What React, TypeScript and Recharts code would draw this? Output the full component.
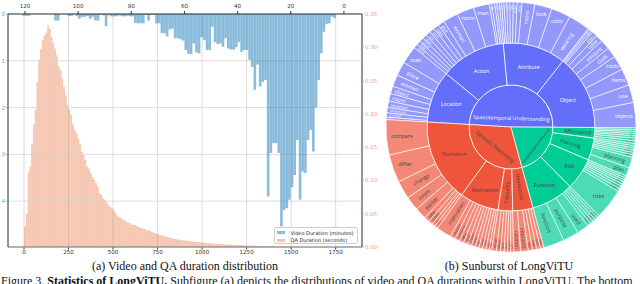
import React from "react";
import { Bar, BarChart, CartesianGrid, Cell, Pie, PieChart, XAxis, YAxis } from "recharts";

const secondTicks = [0, 250, 500, 750, 1000, 1250, 1500, 1750];
const minuteTicks = [0, 20, 40, 60, 80, 100, 120];
const videoTicks = [0, 1, 2, 3, 4];
const qaTicks = [0, 0.05, 0.1, 0.15, 0.2, 0.25, 0.3, 0.35];

// QA duration density, 10 s bins from 0 s
const qaDensity = [
  0.03, 0.05, 0.112, 0.121, 0.154, 0.184, 0.206, 0.248, 0.281, 0.297,
  0.311, 0.317, 0.322, 0.333, 0.328, 0.316, 0.306, 0.298, 0.288, 0.272,
  0.266, 0.253, 0.241, 0.228, 0.213, 0.206, 0.198, 0.184, 0.176, 0.171,
  0.163, 0.155, 0.143, 0.138, 0.131, 0.121, 0.118, 0.111, 0.105, 0.101,
  0.096, 0.09, 0.081, 0.078, 0.073, 0.071, 0.067, 0.063, 0.06, 0.058,
  0.055, 0.051, 0.047, 0.045, 0.044, 0.041, 0.04, 0.038, 0.036, 0.036,
  0.034, 0.033, 0.033, 0.031, 0.03, 0.029, 0.028, 0.027, 0.026, 0.025,
  0.025, 0.023, 0.022, 0.021, 0.02, 0.019, 0.018, 0.017, 0.016, 0.016,
  0.015, 0.014, 0.014, 0.013, 0.012, 0.012, 0.011, 0.011, 0.01, 0.01,
  0.0098, 0.0094, 0.009, 0.0087, 0.0083, 0.008, 0.0077, 0.0074, 0.0071, 0.0069,
  0.0066, 0.0063, 0.006, 0.0058, 0.0056, 0.0053, 0.0051, 0.0049, 0.0047, 0.0045,
  0.0044, 0.0042, 0.004, 0.0039, 0.0037, 0.0036, 0.0034, 0.0033, 0.0031, 0.003,
  0.0029, 0.0027, 0.0026, 0.0025, 0.0024, 0.0023, 0.0022, 0.0021, 0.002, 0.0019,
  0.0018, 0.0017, 0.0016, 0.0015, 0.0014, 0.0013, 0.0012, 0.0012, 0.0011, 0.001,
  0.001, 0.0009, 0.0008, 0.0008, 0.0007, 0.0006, 0.0006, 0.0005, 0.0005, 0.0004,
];

// video duration density, 1 min bins from 0 min
const videoDensity = [
  0, 0, 0, 0.09, 0.06, 0.2, 0.21, 0.38, 0.84, 1.41,
  2.0, 2.94, 2.48, 2.69, 3.4, 3.37, 3.97, 2.69, 3.44, 3.7,
  3.97, 4.15, 4.19, 4.54, 2.97, 2.76, 2.76, 2.97, 3.9, 1.41,
  1.45, 1.55, 1.08, 1.62, 1.13, 0.98, 0.77, 0.77, 0.81, 0.6,
  0.71, 0.76, 0.76, 0.74, 0.52, 0.7, 0.63, 0.64, 0.6, 0.27,
  0.77, 0.77, 0.56, 0.5, 0.84, 0.82, 0.63, 0.86, 0.85, 0.77,
  0.57, 0.54, 0.52, 0.52, 0.31, 0.33, 0.48, 0.41, 0.41, 0.2,
  0.2, 0.02, 0.02, 0.14, 0.02, 0.2, 0.2, 0.2, 0.19, 0.05,
  0.05, 0.04, 0.05, 0.05, 0.03, 0.05, 0.05, 0.05, 0.03, 0.26,
  0.03, 0.02, 0.14, 0.14, 0.06, 0.1, 0.04, 0.06, 0.06, 0.1,
  0.04, 0, 0.04, 0.04, 0, 0, 0, 0.14, 0.14, 0,
  0, 0, 0, 0, 0, 0, 0, 0, 0.04, 0.04,
  0.04,
];

const qaRows = qaDensity.map((v, i) => ({ sec: i * 10 + 5, v }));
const videoRows = videoDensity.map((v, i) => ({ min: i + 0.5, v }));

const BLUE = "#2b85bd";
const ORANGE = "#e8804f";

// sunburst hierarchy
const topNames = ["Spatiotemporal Understanding", "Episodic Reasoning", "Commonsense Inference"];
const topColors = ["#636efa", "#ef553b", "#00cc96"];
const leafColors = ["#9299fb", "#f48876", "#4cdbb5"];
const textColors = ["#ffffff", "#444444", "#444444"];

const midNames = [
  "Object", "Attribute", "Action", "Location",
  "Transition", "Motivation", "Causality", "Interaction",
  "Function", "Risk", "Planning", "Affordance",
];
const midGroup = [0, 0, 0, 0, 1, 1, 1, 1, 2, 2, 2, 2];

const leafNames = [
  ["objects", "use", "items", "tools", "cloth", "amount", "table", "shirt", "bag", "cup", "box"],
  ["wearing", "color", "look", "room", "size", "shape", "light", "state", "text", "style", "pattern"],
  ["hold", "walk", "sit", "open", "man", "room", "woman", "put", "take", "pick", "cut", "pour", "move", "wash", "stand"],
  ["man", "place", "woman", "object", "room", "location", "direction", "position", "area"],
  ["compare", "differ", "change", "zoom", "earlier", "after", "before", "next", "then"],
  ["motivation", "reason", "purpose", "why", "goal", "intent", "need", "aim", "cause", "want", "plan", "hope"],
  ["result", "effect", "lead", "cause", "impact", "due"],
  ["relation", "interacts", "talk", "help", "share", "meet"],
  ["function", "purpose", "used", "role", "serve", "tool", "work", "aid"],
  ["risks", "danger", "hazard", "safety", "harm", "injury", "fall", "fire"],
  ["plan", "planning", "steps", "next", "prepare", "goal", "order", "task"],
  ["grasp", "hold", "sit", "open", "push", "pull", "lift"],
];
const leafShares = [
  [11.75, 8.3, 7.8, 6.7, 4.8, 4.6, 3.2, 2.6, 1.0, 0.9, 0.6],
  [10.1, 9, 8, 6, 2.2, 1.8, 1.6, 1.4, 1.3, 1.1, 1.0],
  [1.2, 1.0, 1.4, 1.1, 7.4, 8, 7, 3, 2.6, 2.4, 2.2, 2.1, 2, 1.9, 1.9],
  [8.4, 6.5, 5.5, 3.5, 3.5, 3, 2.5, 2, 1.1],
  [16.4, 13, 8.5, 6.5, 5.5, 2.5, 2, 1.5, 1.5],
  [7, 2.4, 2.2, 2.1, 2, 1.9, 1.8, 1.7, 1.7, 1.6, 1.5, 1.2],
  [2.2, 1.9, 1.7, 1.5, 1.5, 1.3],
  [3.3, 3.5, 2, 1.9, 1.8, 1.6],
  [9.7, 7.5, 5.5, 1.6, 1.4, 1.3, 1.3, 1.2],
  [14.2, 1.4, 1.3, 1.2, 1.1, 1.0, 1.0, 1.0],
  [4, 5, 1.2, 1.1, 1.1, 1, 1, 1],
  [1.3, 1.2, 1.1, 1.0, 0.95, 0.9, 0.8],
];

type SunRow = { name: string; value: number; group: number };

const sum = (xs: number[]) => xs.reduce((a, b) => a + b, 0);
const leafRows: SunRow[] = leafNames.flatMap((names, m) =>
  names.map((name, k) => ({ name, value: leafShares[m][k], group: midGroup[m] }))
);
const midRows: SunRow[] = midNames.map((name, m) => ({
  name,
  value: sum(leafShares[m]),
  group: midGroup[m],
}));
const topRows: SunRow[] = topNames.map((name, g) => ({
  name,
  value: sum(midRows.filter((r) => r.group === g).map((r) => r.value)),
  group: g,
}));

const SUN_FONT = 5.3;
const TEXTPAD = 1.4;
let measureCtx: CanvasRenderingContext2D | null = null;
function textWidth(s: string, size: number) {
  if (!measureCtx) measureCtx = document.createElement("canvas").getContext("2d");
  if (!measureCtx) return s.length * size * 0.55;
  measureCtx.font = '100px "Open Sans"';
  return (measureCtx.measureText(s).width / 100) * size;
}

function maxHalfSize(a: number, half: number, r: number, ring: number) {
  const q = a + 1 / (2 * Math.tan(half));
  return r * Math.min(1 / (Math.sqrt(q * q + 0.5) + q), ring / (Math.sqrt(a * a + ring / 2) + a));
}

function norm90(deg: number) {
  let d = deg % 180;
  if (d > 90) d -= 180;
  if (d < -90) d += 180;
  return d;
}

// plotly-like "auto" inside text placement
function sunLabel(p: any, rows: SunRow[]) {
  const { cx, cy, midAngle, innerRadius, outerRadius, percent, index } = p;
  const row = rows[index];
  if (!row || !percent) return null;
  const span = (percent * 360 * Math.PI) / 180;
  const half = 0.5 * Math.min(span, Math.PI);
  const ring = 1 - innerRadius / outerRadius;
  const w = textWidth(row.name, SUN_FONT);
  const h = SUN_FONT * 1.2;
  const rIns = Math.max(0, Math.min(1 / (1 + 1 / Math.sin(half)), ring / 2));
  let best = { scale: (rIns * outerRadius * 2) / Math.hypot(w, h), rc: outerRadius * (1 - rIns), rot: 0 };
  if (best.scale < 1) {
    const r = Math.max(0, outerRadius - 2 * TEXTPAD);
    const aR = w / h;
    const sR = maxHalfSize(aR, half, r, ring);
    const rad = { scale: (2 * sR) / h, rc: r * (Math.cos(sR / r) - (aR * sR) / r), rot: norm90(-midAngle) };
    const aT = h / w;
    const sT = maxHalfSize(aT, half, r, ring);
    const tan = { scale: (2 * sT) / w, rc: r * (Math.cos(sT / r) - (aT * sT) / r), rot: norm90(90 - midAngle) };
    if (rad.scale > best.scale) best = rad;
    if (tan.scale > best.scale) best = tan;
  }
  const font = SUN_FONT * Math.min(1, best.scale);
  if (font < 1.2) return null;
  const rad = (midAngle * Math.PI) / 180;
  const x = cx + best.rc * Math.cos(rad);
  const y = cy - best.rc * Math.sin(rad);
  return (
    <text
      key={`l-${index}`}
      x={x}
      y={y}
      transform={`rotate(${best.rot}, ${x}, ${y})`}
      textAnchor="middle"
      dominantBaseline="central"
      fontSize={font}
      fontFamily="Open Sans"
      fill={textColors[row.group]}
    >
      {row.name}
    </text>
  );
}

const tickFont = { fontSize: 5.6, fill: "#333", fontFamily: "DejaVu Sans" };
const spine = { stroke: "#222", strokeWidth: 0.9 };

export default function App() {
  return (
    <div style={{ position: "absolute", left: 0, top: 0, width: 640, height: 284, overflow: "hidden", background: "#fff" }}>
      {/* QA durations: bottom seconds axis, right density axis */}
      <div style={{ position: "absolute", left: 0, top: 0 }}>
        <BarChart width={380} height={260} data={qaRows} margin={{ top: 14, left: 8, right: 0, bottom: 0 }} barCategoryGap={0}>
          <CartesianGrid horizontal={false} stroke="#d4d4d4" strokeWidth={0.8} />
          <XAxis
            dataKey="sec"
            type="number"
            domain={[-90, 1898]}
            ticks={secondTicks}
            interval={0}
            allowDataOverflow
            height={13}
            tickSize={2.5}
            tickMargin={1}
            axisLine={spine}
            tickLine={spine}
            tick={tickFont}
          />
          <YAxis
            orientation="right"
            type="number"
            domain={[0, 0.35]}
            ticks={qaTicks}
            interval={0}
            allowDataOverflow
            width={18}
            tickSize={2}
            tickMargin={1}
            axisLine={spine}
            tickLine={{ stroke: "#f0a07c", strokeWidth: 0.8 }}
            tick={{ ...tickFont, fontSize: 5.5, fill: "#f0a07c" }}
            tickFormatter={(v: number) => v.toFixed(2)}
          />
          <Bar dataKey="v" fill={ORANGE} fillOpacity={0.44} barSize={1.76} isAnimationActive={false} />
        </BarChart>
      </div>

      {/* video durations: top minutes axis, left inverted density axis */}
      <div style={{ position: "absolute", left: 0, top: 0 }}>
        <BarChart width={380} height={260} data={videoRows} margin={{ top: 0, left: 0, right: 18, bottom: 13 }} barCategoryGap={0}>
          <CartesianGrid vertical={false} stroke="#d4d4d4" strokeWidth={0.8} />
          <XAxis
            dataKey="min"
            type="number"
            orientation="top"
            reversed
            domain={[-6.8, 126.4]}
            ticks={minuteTicks}
            interval={0}
            allowDataOverflow
            height={14}
            tickSize={3}
            tickMargin={3}
            axisLine={spine}
            tickLine={spine}
            tick={tickFont}
          />
          <YAxis
            orientation="left"
            type="number"
            reversed
            domain={[0, 4.98]}
            ticks={videoTicks}
            interval={0}
            allowDataOverflow
            width={8}
            tickSize={2}
            tickMargin={1}
            axisLine={spine}
            tickLine={{ stroke: "#5a9fcc", strokeWidth: 0.8 }}
            tick={{ ...tickFont, fill: "#5a9fcc" }}
          />
          <Bar dataKey="v" fill={BLUE} fillOpacity={0.55} barSize={2.62} isAnimationActive={false} />
        </BarChart>
      </div>

      {/* legend */}
      <div
        style={{
          position: "absolute",
          left: 274,
          top: 226.5,
          width: 84,
          height: 17,
          border: "0.6px solid #cfcfcf",
          borderRadius: 2,
          background: "rgba(255,255,255,0.85)",
          fontFamily: "DejaVu Sans",
          fontSize: 5,
          color: "#222",
          boxSizing: "border-box",
        }}
      >
        {[
          { label: "Video Duration (minutes)", color: BLUE, op: 0.55, top: 3.2 },
          { label: "QA Duration (seconds)", color: ORANGE, op: 0.44, top: 10.8 },
        ].map((e) => (
          <div key={e.label} style={{ position: "absolute", left: 2, top: e.top, height: 4, display: "flex", alignItems: "center" }}>
            <span style={{ width: 8, height: 3.5, background: e.color, opacity: e.op, display: "inline-block" }} />
            <span style={{ marginLeft: 5.5, whiteSpace: "nowrap", lineHeight: "4px" }}>{e.label}</span>
          </div>
        ))}
      </div>

      {/* sunburst */}
      <div style={{ position: "absolute", left: 383, top: 0 }}>
        <PieChart width={257} height={256} margin={{ top: 0, right: 0, bottom: 0, left: 0 }}>
          <Pie
            data={topRows}
            dataKey="value"
            nameKey="name"
            cx={128}
            cy={127}
            innerRadius={0}
            outerRadius={42}
            startAngle={-0.35}
            endAngle={359.65}
            stroke="#fff"
            strokeWidth={0.7}
            labelLine={false}
            label={(p: any) => sunLabel(p, topRows)}
            isAnimationActive={false}
          >
            {topRows.map((r, i) => (
              <Cell key={i} fill={topColors[r.group]} />
            ))}
          </Pie>
          <Pie
            data={midRows}
            dataKey="value"
            nameKey="name"
            cx={128}
            cy={127}
            innerRadius={42}
            outerRadius={84}
            startAngle={-0.35}
            endAngle={359.65}
            stroke="#fff"
            strokeWidth={0.7}
            labelLine={false}
            label={(p: any) => sunLabel(p, midRows)}
            isAnimationActive={false}
          >
            {midRows.map((r, i) => (
              <Cell key={i} fill={topColors[r.group]} />
            ))}
          </Pie>
          <Pie
            data={leafRows}
            dataKey="value"
            nameKey="name"
            cx={128}
            cy={127}
            innerRadius={84}
            outerRadius={125}
            startAngle={-0.35}
            endAngle={359.65}
            stroke="#fff"
            strokeWidth={0.6}
            labelLine={false}
            label={(p: any) => sunLabel(p, leafRows)}
            isAnimationActive={false}
          >
            {leafRows.map((r, i) => (
              <Cell key={i} fill={leafColors[r.group]} />
            ))}
          </Pie>
        </PieChart>
      </div>

      {/* captions */}
      <svg width={640} height={284} style={{ position: "absolute", left: 0, top: 0, pointerEvents: "none" }}>
        <text x={185} y={269.5} textAnchor="middle" fontFamily="Liberation Serif" fontSize={12} fill="#111">
          (a) Video and QA duration distribution
        </text>
        <text x={509} y={269.5} textAnchor="middle" fontFamily="Liberation Serif" fontSize={12} fill="#111">
          (b) Sunburst of LongViTU
        </text>
        <text x={1} y={285} fontFamily="Liberation Serif" fontSize={12} fill="#111">
          Figure 3.{" "}
          <tspan fontWeight="bold">Statistics of LongViTU.</tspan> Subfigure (a) depicts the distributions of video and QA
          durations within LongViTU. The bottom
        </text>
      </svg>
    </div>
  );
}
